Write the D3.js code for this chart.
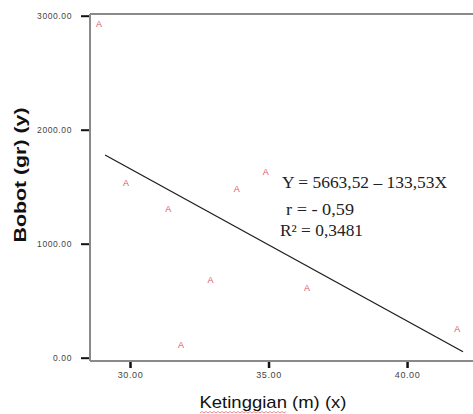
<!DOCTYPE html>
<html>
<head>
<meta charset="utf-8">
<script src="https://cdn.jsdelivr.net/npm/d3@7"></script>
<style>
  html, body { margin: 0; padding: 0; background: #fff; }
  #chart { width: 473px; height: 414px; }
</style>
</head>
<body>
<div id="chart"></div>
<script>
const width = 473;
const height = 414;

// data
const ketinggian = [28.88, 29.86, 31.38, 31.84, 32.91, 33.85, 34.90, 36.39, 41.81];
const bobot = [2927, 1535, 1304, 111, 682, 1477, 1626, 611, 252];
const xTicks = [30, 35, 40];
const yTicks = [0, 1000, 2000, 3000];
const intercept = 5663.52;
const slope = -133.53;
const lineRange = [29.1, 42.02];
const annotation = ["Y = 5663,52  \u2013 133,53X", "r = - 0,59", "R\u00B2 = 0,3481"];

const colors = {
  frame: "#8a8a8a",
  tick: "#111",
  tickText: "#444",
  marker: "#dd5566",
  line: "#1e1e1e",
};

const x = d3.scaleLinear().domain([28.556, 42.38]).range([90, 473]);
const y = d3.scaleLinear().domain([-29, 3015]).range([361, 14]);

const svg = d3
  .select("#chart")
  .append("svg")
  .attr("width", width)
  .attr("height", height);

// frame: top border, left axis, bottom axis
svg.append("line")
  .attr("x1", x.range()[0]).attr("x2", width)
  .attr("y1", y.range()[1]).attr("y2", y.range()[1])
  .attr("stroke", colors.frame).attr("stroke-width", 2);
svg.append("line")
  .attr("x1", x.range()[0]).attr("x2", x.range()[0])
  .attr("y1", y.range()[1]).attr("y2", y.range()[0])
  .attr("stroke", colors.frame).attr("stroke-width", 2);
svg.append("line")
  .attr("x1", x.range()[0]).attr("x2", width)
  .attr("y1", y.range()[0]).attr("y2", y.range()[0])
  .attr("stroke", colors.frame).attr("stroke-width", 2);

// y axis
const yAxis = d3.axisLeft(y)
  .tickValues(yTicks)
  .tickSize(8)
  .tickPadding(9)
  .tickFormat(d3.format(".2f"));
const gy = svg.append("g")
  .attr("transform", `translate(${x.range()[0] - 1},0)`)
  .call(yAxis);
gy.select(".domain").remove();
gy.selectAll(".tick line").attr("stroke", colors.tick).attr("stroke-width", 2);
gy.selectAll(".tick text")
  .attr("fill", colors.tickText)
  .style("font-family", "Arial, 'Liberation Sans', sans-serif")
  .style("font-size", "8.5px")
  .style("letter-spacing", "0.6px");

// x axis
const xAxis = d3.axisBottom(x)
  .tickValues(xTicks)
  .tickSize(6)
  .tickPadding(4)
  .tickFormat(d3.format(".2f"));
const gx = svg.append("g")
  .attr("transform", `translate(0,${y.range()[0] + 1})`)
  .call(xAxis);
gx.select(".domain").remove();
gx.selectAll(".tick line").attr("stroke", colors.tick).attr("stroke-width", 2.5);
gx.selectAll(".tick text")
  .attr("fill", colors.tickText)
  .style("font-family", "Arial, 'Liberation Sans', sans-serif")
  .style("font-size", "9px")
  .style("letter-spacing", "0.6px");

// regression line
svg.append("line")
  .attr("x1", x(lineRange[0]))
  .attr("y1", y(intercept + slope * lineRange[0]))
  .attr("x2", x(lineRange[1]))
  .attr("y2", y(intercept + slope * lineRange[1]))
  .attr("stroke", colors.line)
  .attr("stroke-width", 1.3);

// markers
svg.append("g")
  .selectAll("text")
  .data(ketinggian.map((k, i) => [k, bobot[i]]))
  .enter()
  .append("text")
  .attr("x", (d) => x(d[0]))
  .attr("y", (d) => y(d[1]) + 3)
  .attr("text-anchor", "middle")
  .attr("fill", colors.marker)
  .style("font-family", "Arial, 'Liberation Sans', sans-serif")
  .style("font-size", "9px")
  .text("A");

// annotation
const annPos = [[282, 188, 165], [286, 215, 68], [280, 236, 83]];
svg.append("g")
  .selectAll("text")
  .data(annotation)
  .enter()
  .append("text")
  .attr("x", (d, i) => annPos[i][0])
  .attr("y", (d, i) => annPos[i][1])
  .attr("textLength", (d, i) => annPos[i][2])
  .attr("lengthAdjust", "spacingAndGlyphs")
  .attr("fill", "#222")
  .style("font-family", "'Liberation Serif', 'Times New Roman', serif")
  .style("font-size", "16px")
  .text((d) => d);

// axis titles
svg.append("text")
  .attr("x", 273)
  .attr("y", 408)
  .attr("text-anchor", "middle")
  .attr("textLength", 147)
  .attr("lengthAdjust", "spacingAndGlyphs")
  .attr("fill", "#111")
  .style("font-family", "Arial, 'Liberation Sans', sans-serif")
  .style("font-size", "17px")
  .text("Ketinggian (m) (x)");

svg.append("text")
  .attr("transform", "translate(26,175) rotate(-90)")
  .attr("text-anchor", "middle")
  .attr("textLength", 135)
  .attr("lengthAdjust", "spacingAndGlyphs")
  .attr("fill", "#111")
  .style("font-family", "Arial, 'Liberation Sans', sans-serif")
  .style("font-size", "16px")
  .style("font-weight", "bold")
  .text("Bobot (gr) (y)");

// spell-check squiggle under "Ketinggian"
const squiggle = d3.range(200, 288, 2).map((px, i) => [px, i % 2 ? 411.5 : 413]);
svg.append("path")
  .attr("d", d3.line()(squiggle))
  .attr("fill", "none")
  .attr("stroke", "#e07070")
  .attr("stroke-width", 0.8);
</script>
</body>
</html>
